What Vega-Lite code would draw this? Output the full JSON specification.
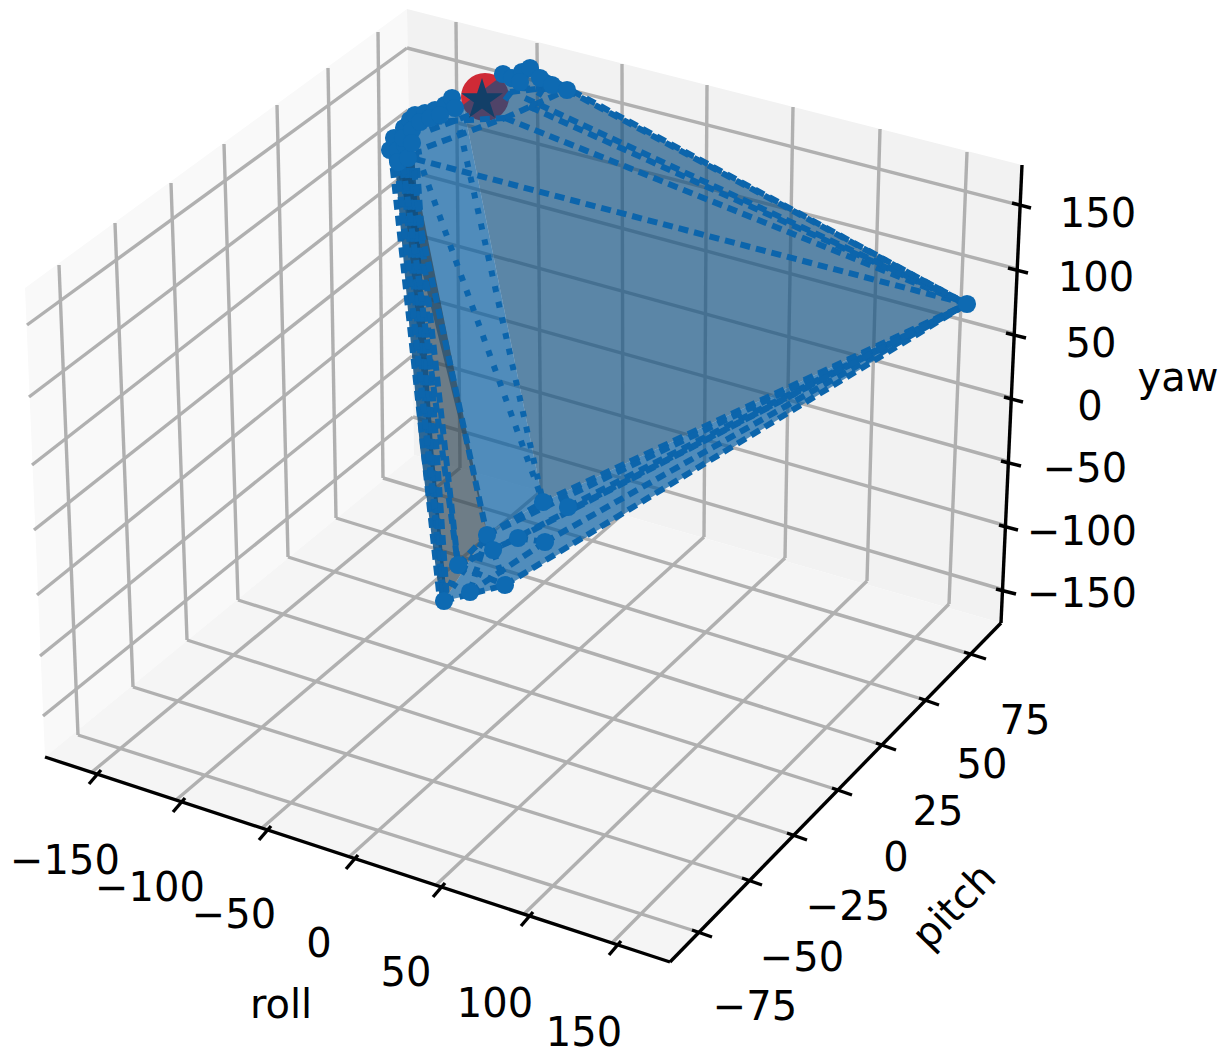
{"$schema":"https://vega.github.io/schema/vega-lite/v6.json","width":1223,"height":1054,"autosize":{"type":"fit","contains":"padding"},"padding":0,"background":"#ffffff","config":{"view":{"stroke":null}},
"datasets":{
"polys":[
{"p":"left","s":1,"u":25,"v":288},{"p":"left","s":2,"u":407,"v":9},{"p":"left","s":3,"u":414,"v":455},{"p":"left","s":4,"u":45,"v":757},
{"p":"back","s":1,"u":407,"v":9},{"p":"back","s":2,"u":1022,"v":165},{"p":"back","s":3,"u":1001,"v":623},{"p":"back","s":4,"u":414,"v":455},
{"p":"floor","s":1,"u":45,"v":757},{"p":"floor","s":2,"u":414,"v":455},{"p":"floor","s":3,"u":1001,"v":623},{"p":"floor","s":4,"u":670,"v":962}],
"hull":[
{"p":"slate","s":1,"u":463,"v":105},{"p":"slate","s":2,"u":503,"v":75},{"p":"slate","s":3,"u":530,"v":68},{"p":"slate","s":4,"u":967,"v":304},{"p":"slate","s":5,"u":543,"v":502},
{"p":"light","s":1,"u":392,"v":150},{"p":"light","s":2,"u":410,"v":118},{"p":"light","s":3,"u":463,"v":105},{"p":"light","s":4,"u":543,"v":502},{"p":"light","s":5,"u":487,"v":533},
{"p":"band","s":1,"u":543,"v":502},{"p":"band","s":2,"u":967,"v":304},{"p":"band","s":3,"u":505,"v":587},{"p":"band","s":4,"u":444,"v":601},{"p":"band","s":5,"u":487,"v":533},
{"p":"wedge","s":1,"u":400,"v":155},{"p":"wedge","s":2,"u":418,"v":190},{"p":"wedge","s":3,"u":487,"v":533},{"p":"wedge","s":4,"u":444,"v":601}],
"darkband":[
{"p":"dark","s":1,"u":394,"v":152},{"p":"dark","s":2,"u":414,"v":152},{"p":"dark","s":3,"u":433,"v":447},{"p":"dark","s":4,"u":447,"v":600},{"p":"dark","s":5,"u":440,"v":600},{"p":"dark","s":6,"u":420,"v":447}],
"grid":[
{"u":59,"v":265,"u2":78,"v2":735},{"u":115,"v":223,"u2":133,"v2":687},{"u":171,"v":183,"u2":187,"v2":640},{"u":224,"v":144,"u2":238,"v2":600},{"u":277,"v":105,"u2":288,"v2":557},{"u":328,"v":68,"u2":336,"v2":518},{"u":378,"v":32,"u2":383,"v2":478},
{"u":27,"v":325,"u2":407,"v2":48},{"u":29,"v":397,"u2":408,"v2":110},{"u":32,"v":465,"u2":409,"v2":171},{"u":34,"v":530,"u2":410,"v2":233},{"u":37,"v":595,"u2":411,"v2":294},{"u":40,"v":656,"u2":412,"v2":356},{"u":43,"v":716,"u2":413,"v2":417},
{"u":456,"v":22,"u2":460,"v2":468},{"u":537,"v":43,"u2":541,"v2":491},{"u":622,"v":64,"u2":623,"v2":514},{"u":707,"v":85,"u2":704,"v2":537},{"u":793,"v":107,"u2":785,"v2":558},{"u":880,"v":129,"u2":867,"v2":581},{"u":967,"v":152,"u2":949,"v2":604},
{"u":407,"v":48,"u2":1019,"v2":205},{"u":408,"v":110,"u2":1017,"v2":269},{"u":409,"v":171,"u2":1015,"v2":334},{"u":410,"v":233,"u2":1012,"v2":398},{"u":411,"v":294,"u2":1010,"v2":462},{"u":412,"v":356,"u2":1007,"v2":526},{"u":413,"v":417,"u2":1004,"v2":590},
{"u":78,"v":735,"u2":698,"v2":932},{"u":133,"v":687,"u2":748,"v2":880},{"u":187,"v":640,"u2":793,"v2":835},{"u":238,"v":600,"u2":838,"v2":790},{"u":288,"v":557,"u2":882,"v2":745},{"u":336,"v":518,"u2":925,"v2":700},{"u":383,"v":478,"u2":970,"v2":654},
{"u":92,"v":772,"u2":460,"v2":468},{"u":176,"v":800,"u2":541,"v2":491},{"u":262,"v":828,"u2":623,"v2":514},{"u":349,"v":857,"u2":704,"v2":537},{"u":436,"v":885,"u2":785,"v2":558},{"u":524,"v":914,"u2":867,"v2":581},{"u":612,"v":943,"u2":949,"v2":604}],
"axes":[
{"u":45,"v":757,"u2":670,"v2":962},{"u":670,"v":962,"u2":1001,"v2":623},{"u":1001,"v":623,"u2":1022,"v2":165},
{"u":101,"v":770,"u2":89,"v2":784},{"u":185,"v":798,"u2":173,"v2":812},{"u":271,"v":826,"u2":259,"v2":840},{"u":358,"v":855,"u2":346,"v2":869},{"u":445,"v":883,"u2":433,"v2":897},{"u":533,"v":912,"u2":521,"v2":926},{"u":621,"v":941,"u2":609,"v2":955},
{"u":692,"v":930,"u2":712,"v2":937},{"u":742,"v":878,"u2":762,"v2":885},{"u":787,"v":833,"u2":807,"v2":840},{"u":832,"v":788,"u2":852,"v2":795},{"u":876,"v":743,"u2":896,"v2":750},{"u":919,"v":698,"u2":939,"v2":705},{"u":964,"v":652,"u2":986,"v2":659},
{"u":1012,"v":203,"u2":1031,"v2":208},{"u":1008,"v":268,"u2":1028,"v2":273},{"u":1006,"v":333,"u2":1026,"v2":338},{"u":1004,"v":397,"u2":1023,"v2":402},{"u":1001,"v":461,"u2":1021,"v2":466},{"u":999,"v":525,"u2":1018,"v2":530},{"u":996,"v":589,"u2":1016,"v2":594}],
"dashed":[
{"u":400,"v":155,"u2":967,"v2":304},{"u":505,"v":118,"u2":967,"v2":304},{"u":530,"v":107,"u2":967,"v2":304},{"u":525,"v":98,"u2":967,"v2":304},{"u":530,"v":68,"u2":967,"v2":304},{"u":567,"v":90,"u2":967,"v2":304},
{"u":427,"v":147,"u2":505,"v2":118},{"u":432,"v":122,"u2":505,"v2":118},{"u":505,"v":118,"u2":567,"v2":90},{"u":520,"v":88,"u2":567,"v2":90},{"u":505,"v":100,"u2":530,"v2":68},{"u":530,"v":110,"u2":545,"v2":85},{"u":430,"v":130,"u2":470,"v2":115},{"u":510,"v":92,"u2":545,"v2":88},
{"u":505,"v":585,"u2":967,"v2":304},{"u":545,"v":542,"u2":967,"v2":304},{"u":568,"v":507,"u2":967,"v2":304},{"u":543,"v":502,"u2":967,"v2":304},{"u":518,"v":538,"u2":967,"v2":304},{"u":487,"v":535,"u2":967,"v2":304},{"u":493,"v":550,"u2":967,"v2":304},
{"u":444,"v":601,"u2":505,"v2":585},{"u":458,"v":565,"u2":505,"v2":585},{"u":493,"v":550,"u2":505,"v2":585},{"u":470,"v":592,"u2":487,"v2":535},{"u":458,"v":565,"u2":487,"v2":535},{"u":458,"v":565,"u2":518,"v2":538},{"u":518,"v":538,"u2":545,"v2":542},{"u":487,"v":535,"u2":543,"v2":502},{"u":470,"v":592,"u2":545,"v2":542},
{"u":391,"v":152,"u2":440,"v2":601},{"u":396,"v":150,"u2":444,"v2":601},{"u":401,"v":152,"u2":444,"v2":601},{"u":406,"v":152,"u2":444,"v2":601},{"u":411,"v":152,"u2":444,"v2":601},{"u":416,"v":152,"u2":447,"v2":601},{"u":397,"v":165,"u2":436,"v2":520},{"u":403,"v":165,"u2":458,"v2":565},{"u":414,"v":170,"u2":458,"v2":565},{"u":418,"v":215,"u2":487,"v2":535}],
"dotted":[
{"u":423,"v":170,"u2":543,"v2":502},{"u":460,"v":130,"u2":543,"v2":502},{"u":400,"v":155,"u2":430,"v2":150},{"u":444,"v":601,"u2":458,"v2":565},{"u":444,"v":601,"u2":487,"v2":535}],
"dots":[
{"u":444,"v":601},{"u":470,"v":592},{"u":505,"v":585},{"u":458,"v":565},{"u":487,"v":535},{"u":493,"v":550},{"u":518,"v":538},{"u":545,"v":542},{"u":543,"v":502},{"u":568,"v":507},{"u":967,"v":304},
{"u":390,"v":150},{"u":394,"v":138},{"u":398,"v":150},{"u":404,"v":128},{"u":405,"v":145},{"u":410,"v":120},{"u":415,"v":115},{"u":425,"v":113},{"u":435,"v":110},{"u":445,"v":105},{"u":452,"v":98},{"u":455,"v":108},{"u":503,"v":74},{"u":512,"v":78},{"u":522,"v":72},{"u":530,"v":68},{"u":540,"v":78},{"u":552,"v":85},{"u":567,"v":90},{"u":403,"v":138},{"u":412,"v":130},{"u":420,"v":122},{"u":398,"v":162},{"u":408,"v":158},{"u":520,"v":82},{"u":430,"v":118},{"u":440,"v":115},{"u":412,"v":143}],
"red":[{"u":485,"v":97}],
"star":[{"u":482,"v":100}],
"labels":[
{"t":"150","u":1098,"v":215},{"t":"100","u":1096,"v":279},{"t":"50","u":1091,"v":345},{"t":"0","u":1090,"v":408},{"t":"−50","u":1085,"v":470},{"t":"−100","u":1082,"v":533},{"t":"−150","u":1082,"v":595},{"t":"yaw","u":1178,"v":379},
{"t":"75","u":1025,"v":722},{"t":"50","u":982,"v":766},{"t":"25","u":938,"v":813},{"t":"0","u":896,"v":859},{"t":"−25","u":848,"v":908},{"t":"−50","u":802,"v":959},{"t":"−75","u":755,"v":1008},
{"t":"−150","u":65,"v":862},{"t":"−100","u":150,"v":889},{"t":"−50","u":234,"v":916},{"t":"0","u":319,"v":945},{"t":"50","u":406,"v":974},{"t":"100","u":495,"v":1005},{"t":"150","u":584,"v":1034},{"t":"roll","u":281,"v":1006}],
"pitchlabel":[{"t":"pitch","u":955,"v":907}]
},
"encoding":{
"x":{"field":"u","type":"quantitative","scale":{"domain":[0,1223],"nice":false,"zero":false},"axis":null},
"y":{"field":"v","type":"quantitative","scale":{"domain":[0,1054],"range":[0,1054],"nice":false,"zero":false},"axis":null}},
"layer":[
{"data":{"name":"polys"},"mark":{"type":"line","stroke":null,"strokeWidth":0,"fill":"#f5f5f5"},"encoding":{"order":{"field":"s","type":"quantitative"},"detail":{"field":"p"},"fill":{"field":"p","type":"nominal","legend":null,"scale":{"domain":["left","back","floor","slate","light","band","wedge","dark"],"range":["#f9f9f9","#f2f2f2","#f5f5f5","#105182","#00599f","#005a9f","#2b4250","#0a4f85"]}}}},
{"data":{"name":"grid"},"mark":{"type":"rule","stroke":"#b0b0b0","strokeWidth":3.4},"encoding":{"x2":{"field":"u2"},"y2":{"field":"v2"}}},
{"data":{"name":"axes"},"mark":{"type":"rule","stroke":"#000000","strokeWidth":3.4},"encoding":{"x2":{"field":"u2"},"y2":{"field":"v2"}}},
{"data":{"name":"red"},"mark":{"type":"point","filled":true,"fill":"#cc1f2b","opacity":0.95,"size":2304}},
{"data":{"name":"hull"},"mark":{"type":"line","stroke":null,"strokeWidth":0,"opacity":0.67,"fill":"#105182"},"encoding":{"order":{"field":"s","type":"quantitative"},"detail":{"field":"p"},"fill":{"field":"p","type":"nominal","legend":null,"scale":{"domain":["left","back","floor","slate","light","band","wedge","dark"],"range":["#f9f9f9","#f2f2f2","#f5f5f5","#105182","#00599f","#005a9f","#2b4250","#0a4f85"]}}}},
{"data":{"name":"darkband"},"mark":{"type":"line","stroke":null,"strokeWidth":0,"opacity":0.85,"fill":"#0a4f85"},"encoding":{"order":{"field":"s","type":"quantitative"},"detail":{"field":"p"},"fill":{"field":"p","type":"nominal","legend":null,"scale":{"domain":["left","back","floor","slate","light","band","wedge","dark"],"range":["#f9f9f9","#f2f2f2","#f5f5f5","#105182","#00599f","#005a9f","#2b4250","#0a4f85"]}}}},
{"data":{"name":"dotted"},"mark":{"type":"rule","stroke":"#0c65ac","strokeWidth":6,"strokeDash":[6,10]},"encoding":{"x2":{"field":"u2"},"y2":{"field":"v2"}}},
{"data":{"name":"dashed"},"mark":{"type":"rule","stroke":"#0c65ac","strokeWidth":6,"strokeDash":[10,6]},"encoding":{"x2":{"field":"u2"},"y2":{"field":"v2"}}},
{"data":{"name":"dots"},"mark":{"type":"point","filled":true,"fill":"#0e6ab2","opacity":1,"size":330}},
{"data":{"name":"star"},"mark":{"type":"point","filled":true,"fill":"#123f68","opacity":1,"size":1936,"shape":"M0,-1L0.2245,-0.309L0.951,-0.309L0.363,0.118L0.588,0.809L0,0.382L-0.588,0.809L-0.363,0.118L-0.951,-0.309L-0.2245,-0.309Z"}},
{"data":{"name":"labels"},"mark":{"type":"text","font":"DejaVu Sans","fontSize":40,"fill":"#000000","align":"center","baseline":"middle"},"encoding":{"text":{"field":"t"}}},
{"data":{"name":"pitchlabel"},"mark":{"type":"text","font":"DejaVu Sans","fontSize":40,"fill":"#000000","align":"center","baseline":"middle","angle":314},"encoding":{"text":{"field":"t"}}}
]}
